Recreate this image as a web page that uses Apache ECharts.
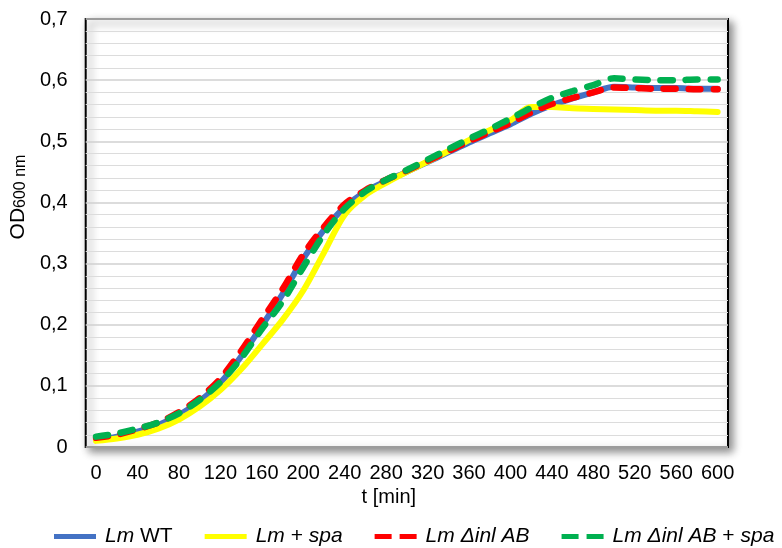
<!DOCTYPE html>
<html>
<head>
<meta charset="utf-8">
<script src="https://cdn.jsdelivr.net/npm/echarts@6/dist/echarts.min.js"></script>
<style>
html,body{margin:0;padding:0;background:#fff;}
#c{width:782px;height:548px;}
</style>
</head>
<body>
<div id="c"></div>
<script>
// time points (min)
var times = [0,20,40,60,80,100,120,140,160,180,200,220,240,260,280,300,320,340,360,380,400,420,440,460,480,500,520,540,560,580,600];
var seriesNames = ['Lm WT', 'Lm + spa', 'Lm Δinl AB', 'Lm Δinl AB + spa'];
var wt = [0.012,0.017,0.025,0.036,0.052,0.075,0.105,0.148,0.198,0.250,0.308,0.355,0.392,0.418,0.435,0.450,0.466,0.482,0.498,0.513,0.528,0.545,0.559,0.570,0.580,0.589,0.588,0.587,0.587,0.586,0.586];
var wtSpa = [0.010,0.014,0.020,0.030,0.045,0.066,0.093,0.127,0.167,0.208,0.256,0.318,0.380,0.412,0.432,0.450,0.467,0.484,0.502,0.518,0.534,0.556,0.556,0.554,0.553,0.552,0.551,0.550,0.550,0.549,0.548];
var dinl = [0.015,0.020,0.029,0.040,0.057,0.080,0.112,0.157,0.208,0.258,0.315,0.360,0.397,0.420,0.437,0.452,0.468,0.484,0.500,0.515,0.530,0.547,0.561,0.571,0.580,0.588,0.587,0.586,0.586,0.585,0.585];
var dinlSpa = [0.017,0.022,0.030,0.040,0.055,0.077,0.106,0.145,0.193,0.238,0.294,0.348,0.390,0.418,0.437,0.453,0.470,0.487,0.504,0.520,0.537,0.555,0.571,0.582,0.592,0.603,0.601,0.600,0.600,0.601,0.601];
var colors = ['#4472C4', '#FFFF00', '#FF0000', '#00B050'];
var legendLabels = {
  'Lm WT': '{i|Lm} WT',
  'Lm + spa': '{i|Lm} + {i|spa}',
  'Lm Δinl AB': '{i|Lm Δinl AB}',
  'Lm Δinl AB + spa': '{i|Lm Δinl AB} + {i|spa}'
};
var dashIcon = 'path://M0,0H17V5H0Z M25,0H42V5H25Z';

var FONT = '"Liberation Sans", Arial, sans-serif';
var chart = echarts.init(document.getElementById('c'), null, {renderer: 'canvas'});

function mkSeries(name, data, color, dashed) {
  return {
    name: name,
    type: 'line',
    data: data,
    smooth: 0.3,
    showSymbol: false,
    symbol: 'none',
    itemStyle: {color: color},
    lineStyle: dashed ? {color: color, width: 6.5, type: [12, 13], cap: 'round'} : {color: color, width: 6, cap: 'round'},
    emphasis: {disabled: true}
  };
}

chart.setOption({
  animation: false,
  backgroundColor: '#fff',
  textStyle: {fontFamily: FONT},
  grid: {
    left: 85, right: 54, top: 19, bottom: 101,
    show: true,
    backgroundColor: '#fff',
    borderColor: '#000',
    borderWidth: 2,
    shadowColor: 'rgba(0,0,0,0.45)',
    shadowBlur: 8,
    shadowOffsetX: 4,
    shadowOffsetY: 4
  },
  legend: {
    left: 54,
    top: 526,
    width: 780,
    padding: 0,
    itemWidth: 42,
    itemHeight: 5,
    itemGap: 32,
    data: [
      {name: seriesNames[0], icon: 'rect'},
      {name: seriesNames[1], icon: 'rect'},
      {name: seriesNames[2], icon: dashIcon},
      {name: seriesNames[3], icon: dashIcon}
    ],
    formatter: function (n) { return legendLabels[n]; },
    textStyle: {
      fontFamily: FONT, fontSize: 21, color: '#000', padding: [0, 0, 0, 4],
      rich: {i: {fontStyle: 'italic', fontSize: 21, fontFamily: FONT, color: '#000'}}
    }
  },
  xAxis: {
    type: 'category',
    data: times.map(String),
    boundaryGap: true,
    name: 't [min]',
    nameLocation: 'middle',
    nameGap: 40,
    nameTextStyle: {fontFamily: FONT, fontSize: 20, color: '#000', verticalAlign: 'top', padding: [0, 36, 0, 0]},
    axisLine: {show: false},
    axisTick: {show: false},
    axisLabel: {interval: 1, fontFamily: FONT, fontSize: 20, color: '#000', margin: 16},
    splitLine: {show: false}
  },
  yAxis: {
    type: 'value',
    min: 0, max: 0.7, interval: 0.1,
    name: '{a|OD}{b|600 nm}',
    nameLocation: 'middle',
    nameGap: 52,
    nameRotate: 90,
    nameTextStyle: {
      padding: [0, 0, 0, 72],
      rich: {
        a: {fontFamily: FONT, fontSize: 21, color: '#000', verticalAlign: 'bottom', lineHeight: 24},
        b: {fontFamily: FONT, fontSize: 16, color: '#000', verticalAlign: 'bottom', lineHeight: 20}
      }
    },
    axisLine: {show: false},
    axisTick: {show: false},
    axisLabel: {
      fontFamily: FONT, fontSize: 20, color: '#000', margin: 18,
      formatter: function (v) { return (Math.round(v * 10) / 10).toString().replace('.', ','); }
    },
    splitLine: {show: true, lineStyle: {color: '#d0d0d0', width: 1.5}},
    minorTick: {show: false, splitNumber: 5},
    minorSplitLine: {show: true, lineStyle: {color: '#dcdcdc', width: 1.2}}
  },
  series: [
    mkSeries(seriesNames[0], wt, colors[0], false),
    mkSeries(seriesNames[1], wtSpa, colors[1], false),
    mkSeries(seriesNames[2], dinl, colors[2], true),
    mkSeries(seriesNames[3], dinlSpa, colors[3], true)
  ]
});
</script>
</body>
</html>
